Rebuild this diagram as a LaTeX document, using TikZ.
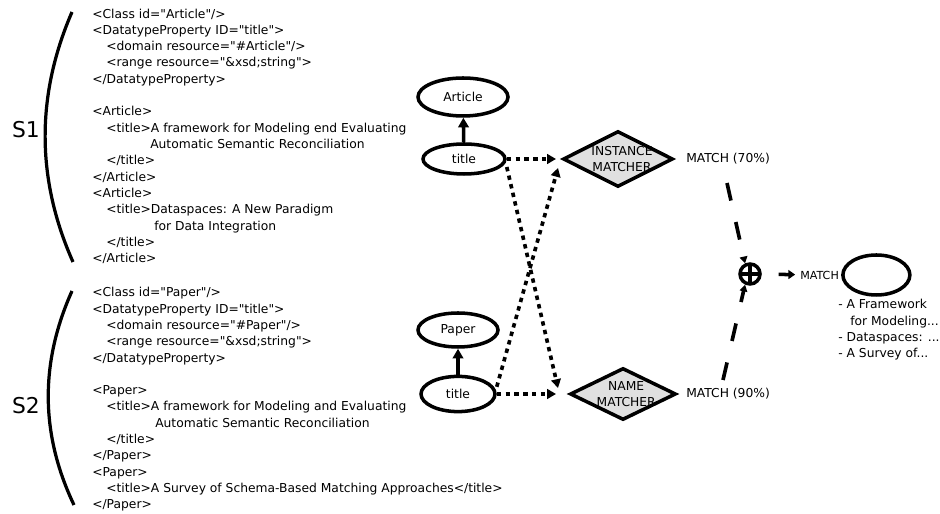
\documentclass[tikz,border=0pt]{standalone}
\usepackage{fontspec}
\setmainfont{DejaVu Sans}[Ligatures=TeXOff]
\usetikzlibrary{positioning, arrows.meta, shapes.geometric}
\definecolor{matchgray}{HTML}{E0E0E0}

\begin{document}
\begin{tikzpicture}[
    code/.style={
        font=\fontsize{8.75}{11.6}\selectfont,
        align=left,
        anchor=north west,
        inner sep=0pt
    },
    concept/.style={
        draw, ellipse, line width=2.5pt,
        font=\fontsize{8.75}{10}\selectfont,
        inner sep=0pt
    },
    matcher/.style={
        draw, diamond, line width=2.5pt, fill=matchgray,
        inner sep=0pt
    },
    score/.style={
        font=\fontsize{8.75}{10}\selectfont,
        anchor=west, inner sep=0pt
    },
    link/.style={line width=2.5pt, -{Triangle[length=0.24cm, width=0.26cm]}},
    dotlink/.style={line width=2.6pt, dash pattern=on 0.11cm off 0.11cm,
        -{Triangle[length=0.22cm, width=0.24cm]}},
    dashlink/.style={line width=2.6pt, dash pattern=on 0.45cm off 0.55cm,
        -{Triangle[length=0.17cm, width=0.19cm]}}
]

\useasboundingbox (0, 0) rectangle (23.5, 12.85);

% Source S1 - bracket and listing
\node[font=\fontsize{15.5}{18}\selectfont] (s1) at (0.65, 9.6) {S1};
\draw[line width=2.3pt] (1.8, 12.55) .. controls (0.9, 10.47) and (0.9, 8.38) .. (1.825, 6.3);
\node[code] (s1code) at (2.3, 12.64) {<Class id="Article"/>\\
<DatatypeProperty ID="title">\\
\hspace*{0.35cm}<domain resource="\#Article"/>\\
\hspace*{0.35cm}<range resource="\&xsd;string">\\
</DatatypeProperty>\\[11.6pt]
<Article>\\
\hspace*{0.35cm}<title>A framework for Modeling end Evaluating\\
\hspace*{1.45cm}Automatic Semantic Reconciliation\\
\hspace*{0.35cm}</title>\\
</Article>\\
<Article>\\
\hspace*{0.35cm}<title>Dataspaces: A New Paradigm\\
\hspace*{1.55cm}for Data Integration\\
\hspace*{0.35cm}</title>\\
</Article>};

% Source S2 - bracket and listing
\node[font=\fontsize{15.5}{18}\selectfont] (s2) at (0.65, 2.7) {S2};
\draw[line width=2.3pt] (1.8, 5.575) .. controls (1.0, 3.79) and (1.0, 2.01) .. (1.85, 0.225);
\node[code] (s2code) at (2.3, 5.67) {<Class id="Paper"/>\\
<DatatypeProperty ID="title">\\
\hspace*{0.35cm}<domain resource="\#Paper"/>\\
\hspace*{0.35cm}<range resource="\&xsd;string">\\
</DatatypeProperty>\\[11.6pt]
<Paper>\\
\hspace*{0.35cm}<title>A framework for Modeling and Evaluating\\
\hspace*{1.575cm}Automatic Semantic Reconciliation\\
\hspace*{0.35cm}</title>\\
</Paper>\\
<Paper>\\
\hspace*{0.35cm}<title>A Survey of Schema-Based Matching Approaches</title>\\
</Paper>};

% Schema graphs
\node[concept, minimum width=2.25cm, minimum height=0.95cm] (art) at (11.575, 10.425) {Article};
\node[concept, minimum width=2.05cm, minimum height=0.75cm] (t1) at (11.6, 8.875) {title};
\node[concept, minimum width=2.0cm, minimum height=0.85cm] (pap) at (11.45, 4.6) {Paper};
\node[concept, minimum width=1.85cm, minimum height=0.88cm] (t2) at (11.45, 3.0) {title};
\draw[link] (t1) -- (art);
\draw[link] (t2) -- (pap);

% Matchers
\node[matcher, minimum width=2.75cm, minimum height=1.4cm,
    label={[font=\fontsize{8.75}{11.4}\selectfont, align=center, xshift=0.1cm]center:INSTANCE\\MATCHER}] (im) at (15.45, 8.875) {};
\node[matcher, minimum width=2.65cm, minimum height=1.3cm,
    label={[font=\fontsize{8.75}{11.4}\selectfont, align=center, xshift=0.08cm]center:NAME\\MATCHER}] (nm) at (15.575, 3.0) {};
\coordinate (imin) at (13.9, 8.875);
\coordinate (imx) at (13.95, 8.65);
\coordinate (nmin) at (13.9, 3.0);
\coordinate (nmx) at (13.95, 3.15);

\draw[dotlink] (t1.east) -- (imin);
\draw[dotlink] (t2.east) -- (nmin);
\draw[dotlink] ([yshift=-0.2cm]t1.east) -- (nmx);
\draw[dotlink] ([yshift=0.18cm]t2.east) -- (imx);

% Scores
\node[score] (m70) at (17.15, 8.875) {MATCH (70\%)};
\node[score] (m90) at (17.15, 3.0) {MATCH (90\%)};

% Combination
\node[draw, circle, line width=2.5pt, minimum size=0.5cm, inner sep=0pt,
    path picture={\draw[line width=2.5pt]
        (path picture bounding box.north) -- (path picture bounding box.south)
        (path picture bounding box.west) -- (path picture bounding box.east);}] (plus) at (18.75, 6.0) {};
\coordinate (m70b) at (18.175, 8.275);
\coordinate (m90t) at (18.075, 3.35);
\draw[dashlink] (m70b) -- (plus.115);
\draw[dashlink] (m90t) -- (plus.245);

% Result
\node[score, font=\fontsize{7.9}{10}\selectfont] (mt) at (20.0, 5.975) {MATCH};
\draw[link, -{Triangle[length=0.17cm, width=0.22cm]}, shorten <=0.42cm, shorten >=0.12cm] (plus) -- (mt);
\node[concept, minimum width=1.675cm, minimum height=1.0cm, right=0.05cm of mt] (res) {};
\node[code] (docs) at (20.95, 5.37) {- A Framework\\
\hspace*{0.3cm}for Modeling...\\
- Dataspaces: ...\\
- A Survey of...};

\end{tikzpicture}
\end{document}
